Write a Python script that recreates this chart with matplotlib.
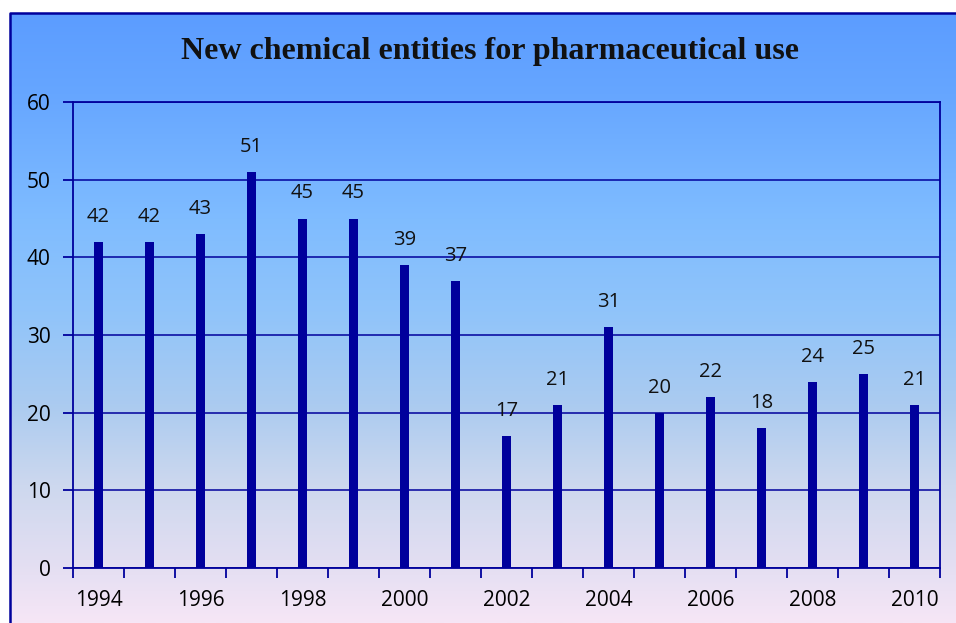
import matplotlib.pyplot as plt
import numpy as np
from matplotlib.colors import LinearSegmentedColormap
from matplotlib.patches import Rectangle

years = [1994, 1995, 1996, 1997, 1998, 1999, 2000, 2001, 2002,
         2003, 2004, 2005, 2006, 2007, 2008, 2009, 2010]
counts = [42, 42, 43, 51, 45, 45, 39, 37, 17, 21, 31, 20, 22, 18, 24, 25, 21]
year_labels = [str(y) for y in years[::2]]

navy = '#00009c'
plt.rcParams['font.family'] = 'Open Sans'

fig = plt.figure(figsize=(9.56, 6.23), dpi=100)

# gradient background over the whole chart box
bg = fig.add_axes([0, 0, 1, 1], zorder=-10)
grad = LinearSegmentedColormap.from_list('bg', [
    (0.0, '#f6e6f6'), (0.1, '#e2def2'), (0.22, '#cdd8ee'),
    (0.35, '#abcbf0'), (0.5, '#90c4fa'), (0.65, '#7fbcff'),
    (0.85, '#66a6ff'), (1.0, '#5a9bff')])
bg.imshow(np.linspace(0, 1, 256).reshape(-1, 1), aspect='auto', cmap=grad,
          origin='lower', extent=[0, 1, 0, 1])
bg.set_xlim(0, 1)
bg.set_ylim(0, 1)
bg.axis('off')
# white margin at top and left, plus border line
bg.add_patch(Rectangle((0, 1 - 12 / 623), 1, 12 / 623, color='white', zorder=2))
bg.add_patch(Rectangle((0, 0), 9 / 956, 1, color='white', zorder=2))
bg.plot([10 / 956, 10 / 956, 1], [0, 1 - 13 / 623, 1 - 13 / 623],
        color=navy, lw=1.8, zorder=3, solid_capstyle='butt')

ax = fig.add_axes([73 / 956, 1 - 568 / 623, (940 - 73) / 956, (568 - 102) / 623])
ax.patch.set_alpha(0)

x = np.arange(len(years))
ax.bar(x, counts, width=0.16, color=navy, zorder=3)
for xi, c in zip(x, counts):
    ax.annotate(str(c), (xi, c), xytext=(0, 18), textcoords='offset points',
                ha='center', va='center', fontsize=14.5, color='#111111')

ax.set_xlim(-0.5, len(years) - 0.5)
ax.set_ylim(0, 60)
ax.set_yticks(range(0, 61, 10))
ax.yaxis.grid(True, color=navy, lw=1.1)
ax.set_axisbelow(True)

ax.set_xticks(np.arange(-0.5, len(years), 1))
ax.set_xticklabels([])
ax.set_xticks(x[::2], minor=True)
ax.set_xticklabels(year_labels, minor=True)
ax.tick_params(axis='x', which='major', length=7, width=1.3, color=navy, direction='out')
ax.tick_params(axis='x', which='minor', length=0, pad=16, labelsize=15)
ax.tick_params(axis='y', length=7, width=1.3, color=navy, pad=9, labelsize=15)

for s in ax.spines.values():
    s.set_color(navy)
    s.set_linewidth(1.3)

fig.text(490 / 956, 1 - 52 / 623, 'New chemical entities for pharmaceutical use',
         ha='center', va='center', fontsize=23, fontweight='bold',
         family='Liberation Serif', color='#111111')

fig.savefig('out.png', dpi=100)
